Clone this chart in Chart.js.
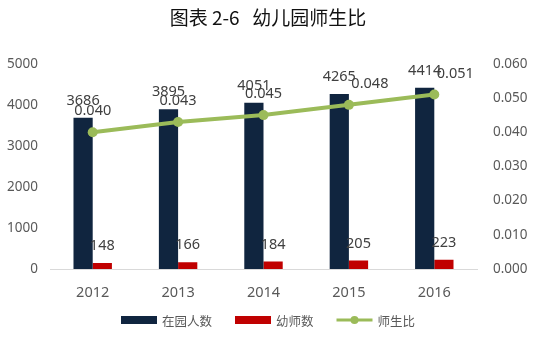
<!DOCTYPE html>
<html>
<head>
<meta charset="utf-8">
<script src="https://cdn.jsdelivr.net/npm/chart.js@4/dist/chart.umd.min.js"></script>
<style>
  html, body { margin: 0; padding: 0; background: #fff; }
  #wrap { width: 536px; height: 354px; }
</style>
</head>
<body>
<div id="wrap"><canvas id="chart" width="536" height="354"></canvas></div>
<script>
const years = ['2012', '2013', '2014', '2015', '2016'];
const pupils = [3686, 3895, 4051, 4265, 4414];   // 在园人数
const teachers = [148, 166, 184, 205, 223];      // 幼师数
const ratio = [0.040, 0.043, 0.045, 0.048, 0.051]; // 师生比
const leftTicks = [0, 1000, 2000, 3000, 4000, 5000];
const rightTicks = [0, 0.01, 0.02, 0.03, 0.04, 0.05, 0.06];

const NAVY = '#10253f';
const RED = '#c00000';
const GREEN = '#9bbb59';
const LABEL_FONT = '"Noto Sans", "Noto Sans CJK SC", sans-serif';
const CJK_FONT = '"Noto Sans CJK SC", sans-serif';

// ratio labels sit above the point; last two are nudged right like the original
const ratioShift = [0, 0, 0, 21, 21];

const valueLabels = {
  id: 'valueLabels',
  afterDatasetsDraw(chart) {
    const ctx = chart.ctx;
    ctx.save();
    ctx.fillStyle = '#404040';
    ctx.textAlign = 'center';
    ctx.textBaseline = 'middle';
    ctx.font = '14.5px ' + LABEL_FONT;
    chart.data.datasets.forEach((ds, di) => {
      const meta = chart.getDatasetMeta(di);
      meta.data.forEach((el, i) => {
        if (ds.type === 'line') {
          ctx.fillText(ds.data[i].toFixed(3), el.x + ratioShift[i], el.y - 21);
        } else {
          ctx.fillText(String(ds.data[i]), el.x, el.y - 17);
        }
      });
    });
    ctx.restore();
  }
};

// bottom legend drawn by hand so spacing matches the excel look
const bottomLegend = {
  id: 'bottomLegend',
  afterDraw(chart) {
    const ctx = chart.ctx;
    const y = 320, iconW = 36, gapText = 5, gapItem = 23;
    ctx.save();
    ctx.font = '12.5px ' + CJK_FONT;
    const items = chart.data.datasets.map(ds => ({ ds, w: ctx.measureText(ds.label).width }));
    const total = items.reduce((s, it) => s + iconW + gapText + it.w, 0) + gapItem * (items.length - 1);
    let x = (chart.width - total) / 2;
    items.forEach(({ ds, w }) => {
      if (ds.type === 'line') {
        ctx.strokeStyle = ds.borderColor;
        ctx.lineWidth = 3;
        ctx.beginPath(); ctx.moveTo(x, y); ctx.lineTo(x + iconW, y); ctx.stroke();
        ctx.fillStyle = ds.borderColor;
        ctx.beginPath(); ctx.arc(x + iconW / 2, y, 4, 0, Math.PI * 2); ctx.fill();
      } else {
        ctx.fillStyle = ds.backgroundColor;
        ctx.fillRect(x, y - 4, iconW, 8);
      }
      x += iconW + gapText;
      ctx.fillStyle = '#595959';
      ctx.textAlign = 'left';
      ctx.textBaseline = 'middle';
      ctx.fillText(ds.label, x, y + 1);
      x += w + gapItem;
    });
    ctx.restore();
  }
};

new Chart(document.getElementById('chart'), {
  data: {
    labels: years,
    datasets: [
      {
        type: 'bar', label: '在园人数', data: pupils, yAxisID: 'y',
        backgroundColor: NAVY, order: 2,
        categoryPercentage: 0.45, barPercentage: 1.0
      },
      {
        type: 'bar', label: '幼师数', data: teachers, yAxisID: 'y',
        backgroundColor: RED, order: 2,
        categoryPercentage: 0.45, barPercentage: 1.0
      },
      {
        type: 'line', label: '师生比', data: ratio, yAxisID: 'y1',
        borderColor: GREEN, backgroundColor: GREEN, borderWidth: 4,
        pointRadius: 5, pointBackgroundColor: GREEN, pointBorderWidth: 0,
        tension: 0, order: 0
      }
    ]
  },
  options: {
    responsive: false,
    animation: false,
    devicePixelRatio: 1,
    layout: { padding: { left: 0, right: 0, top: 6, bottom: 45 } },
    plugins: {
      tooltip: { enabled: false },
      legend: { display: false },
      title: {
        display: true,
        text: '图表 2-6   幼儿园师生比',
        color: '#111',
        font: { family: '"Noto Sans CJK SC", serif', size: 19, weight: 'normal' },
        padding: { top: 0, bottom: 35 }
      }
    },
    scales: {
      x: {
        offset: true,
        afterFit(scale) { scale.height = 40; },
        grid: { display: false, drawTicks: false },
        border: { display: true, color: '#d9d9d9', width: 1 },
        ticks: { color: '#595959', padding: 15, font: { family: LABEL_FONT, size: 14.5 } }
      },
      y: {
        position: 'left',
        min: 0, max: 5000,
        afterBuildTicks(scale) { scale.ticks = leftTicks.map(v => ({ value: v })); },
        afterFit(scale) { scale.width = 50; },
        grid: { display: false, drawTicks: false },
        border: { display: false },
        ticks: { color: '#595959', padding: 12, font: { family: LABEL_FONT, size: 13.5 }, callback: v => String(v) }
      },
      y1: {
        position: 'right',
        min: 0, max: 0.06,
        afterBuildTicks(scale) { scale.ticks = rightTicks.map(v => ({ value: v })); },
        afterFit(scale) { scale.width = 59; },
        grid: { display: false, drawTicks: false },
        border: { display: false },
        ticks: {
          color: '#595959', padding: 16, font: { family: LABEL_FONT, size: 13.5 },
          callback: v => Number(v).toFixed(3)
        }
      }
    }
  },
  plugins: [valueLabels, bottomLegend]
});
</script>
</body>
</html>
